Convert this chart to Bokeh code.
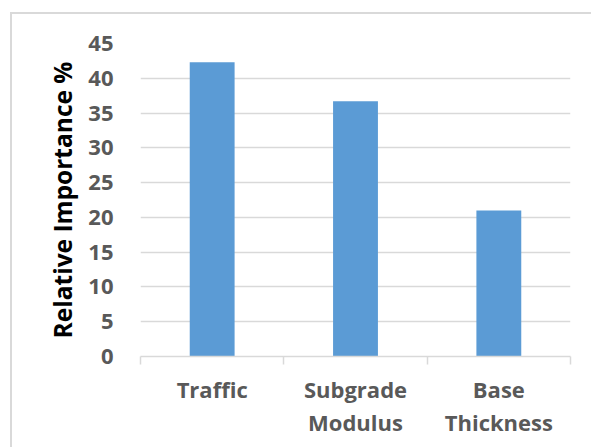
from bokeh.plotting import figure
from bokeh.models import Range1d, FixedTicker
from bokeh.embed import file_html
from bokeh.resources import INLINE

categories = ["Traffic", "Subgrade\nModulus", "Base\nThickness"]
importance = [42.3, 36.7, 21.0]
y_ticks = [0, 5, 10, 15, 20, 25, 30, 35, 40, 45]
y_title = "Relative Importance %"

x_pos = [i + 0.5 for i in range(len(categories))]
x_bounds = list(range(len(categories) + 1))

FONT = "Open Sans"
GRID = "#D9D9D9"
LABEL = "#595959"

p = figure(width=581, height=435, output_backend="svg", toolbar_location=None,
           x_range=Range1d(0, len(categories)), y_range=Range1d(0, y_ticks[-1]),
           min_border_left=128, min_border_right=23, min_border_top=29, min_border_bottom=93)
p.margin = (12, 0, 0, 10)
p.styles = {"border-left": "2px solid #D9D9D9", "border-top": "2px solid #D9D9D9"}
p.background_fill_color = "white"
p.border_fill_color = "white"
p.outline_line_color = None

p.vbar(x=x_pos, top=importance, width=0.313, color="#5B9BD5", line_color=None)

# y axis
yax = p.yaxis[0]
yax.ticker = FixedTicker(ticks=y_ticks)
yax.axis_line_color = None
yax.major_tick_line_color = None
yax.minor_tick_line_color = None
yax.major_tick_out = 0
yax.major_tick_in = 0
yax.major_label_standoff = 27
yax.major_label_text_font = FONT
yax.major_label_text_font_style = "bold"
yax.major_label_text_font_size = "22px"
yax.major_label_text_color = LABEL
yax.axis_label = y_title
yax.axis_label_text_font = FONT
yax.axis_label_text_font_style = "bold"
yax.axis_label_text_font_size = "24.5px"
yax.axis_label_text_color = "black"
yax.axis_label_standoff = 6

# x axis
xax = p.xaxis[0]
xax.ticker = FixedTicker(ticks=x_pos, minor_ticks=x_bounds)
xax.major_label_overrides = {x: c for x, c in zip(x_pos, categories)}
xax.axis_line_color = GRID
xax.axis_line_width = 1.5
xax.major_tick_line_color = None
xax.major_tick_out = 0
xax.major_tick_in = 0
xax.minor_tick_line_color = GRID
xax.minor_tick_line_width = 1.5
xax.minor_tick_out = 8
xax.minor_tick_in = 0
xax.major_label_standoff = 9
xax.major_label_text_font = FONT
xax.major_label_text_font_style = "bold"
xax.major_label_text_font_size = "22px"
xax.major_label_text_color = LABEL
xax.major_label_text_line_height = 1.1

p.xgrid.grid_line_color = None
p.ygrid.grid_line_color = GRID
p.ygrid.grid_line_width = 1.5

open("out.html", "w").write(file_html(p, INLINE))
